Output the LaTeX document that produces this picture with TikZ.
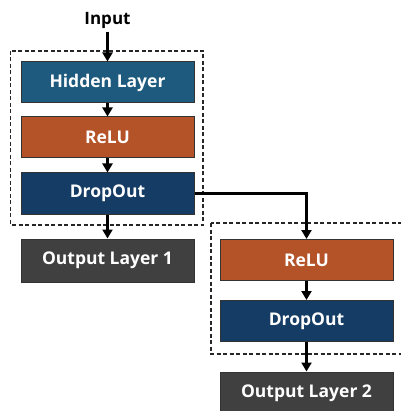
\documentclass[tikz,border=0pt]{standalone}
\usepackage{fontspec}
\setmainfont{Open Sans}
\usetikzlibrary{arrows.meta}
\definecolor{hid}{RGB}{30,90,125}
\definecolor{relu}{RGB}{180,82,40}
\definecolor{drop}{RGB}{20,60,100}
\definecolor{outc}{RGB}{64,64,64}
\tikzset{
  layer/.style={draw=black!80, line width=1pt, minimum width=173pt, minimum height=41pt, inner sep=0pt, text=white, font=\bfseries\fontsize{17.5}{19}\selectfont},
  conn/.style={line width=2.6pt, -{Triangle[length=9pt,width=10pt]}},
  grp/.style={draw=black!85, line width=1.1pt, dash pattern=on 4pt off 2.5pt}
}
\begin{document}
\begin{tikzpicture}[x=1pt,y=-1pt]
\useasboundingbox (0,0) rectangle (400,411);
\fill[white] (0,0) rectangle (400,411);
\draw[grp] (10.5,51) rectangle (203,225);
\draw[grp] (211,223) rectangle (403,354);
\node[font=\bfseries\fontsize{17}{19}\selectfont] (in) at (107.5,20) {Input};
\node[layer, fill=hid] (h) at (107.5,82.5) {Hidden Layer};
\node[layer, fill=relu] (r1) at (107.5,137.5) {ReLU};
\node[layer, fill=drop] (d1) at (107.5,193.5) {DropOut};
\node[layer, fill=outc, minimum height=43pt] (o1) at (107.5,260.5) {Output Layer 1};
\node[layer, fill=relu] (r2) at (306.5,260) {ReLU};
\node[layer, fill=drop] (d2) at (306.5,321) {DropOut};
\node[layer, fill=outc, minimum height=43pt] (o2) at (306.5,393.5) {Output Layer 2};
\draw[conn] (in.south) -- (h.north);
\draw[conn] (h) -- (r1);
\draw[conn] (r1) -- (d1);
\draw[conn] (d1) -- (o1);
\draw[conn] (d1.east) -| (r2.north);
\draw[conn] (r2) -- (d2);
\draw[conn] (d2) -- (o2);
\end{tikzpicture}
\end{document}
